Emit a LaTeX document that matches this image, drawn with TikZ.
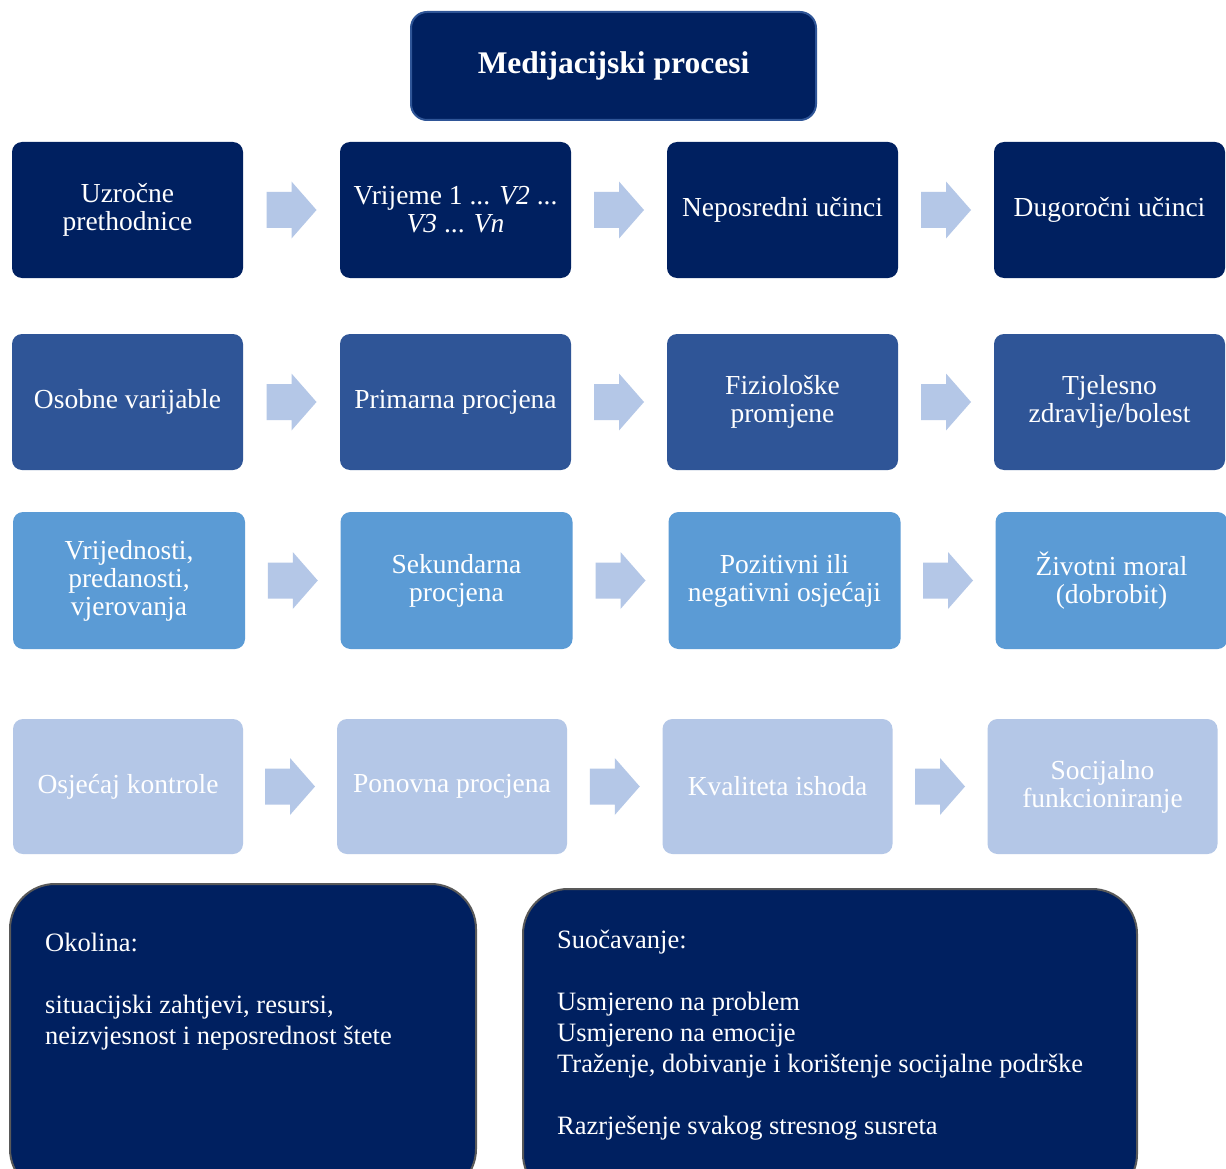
\documentclass[tikz,border=0pt]{standalone}
\usepackage{fontspec}
\setmainfont{Liberation Serif}
\usetikzlibrary{calc}
\definecolor{cA}{RGB}{0,32,96}
\definecolor{cB}{RGB}{47,85,151}
\definecolor{cC}{RGB}{91,155,213}
\definecolor{cD}{RGB}{180,199,231}
\definecolor{arrowc}{RGB}{180,199,231}
\definecolor{rimgray}{RGB}{89,89,89}
\begin{document}
\begin{tikzpicture}[x=1pt,y=-1pt,
  box/.style={rounded corners=10pt, minimum width=231pt, minimum height=136pt, inner sep=0pt, align=center, text=white, font=\fontsize{27.5}{28}\selectfont},
  blockarrow/.pic={\fill[arrowc] (-25,-18) -- (0,-18) -- (0,-28.5) -- (25,0) -- (0,28.5) -- (0,18) -- (-25,18) -- cycle;},
  bigbox/.style={draw=rimgray, line width=2pt, fill=cA, rounded corners=45pt, minimum height=310pt, anchor=north west, inner sep=0pt},
  bigtext/.style={anchor=north west, inner sep=0pt, align=left, text=white, font=\fontsize{26.5}{31}\selectfont}
]
\clip (0,0) rectangle (1226,1169);
\fill[white] (0,0) rectangle (1226,1169);

\node[box, fill=cA, minimum width=405pt, minimum height=108pt, rounded corners=16pt, draw=cB, line width=2pt, font=\fontsize{31.5}{36}\selectfont\bfseries] (title) at (613.5,66) {Medijacijski procesi};

% row 1
\node[box, fill=cA] (a1) at (127.5,210) {Uzročne\\prethodnice};
\node[box, fill=cA] (a2) at (455.5,210) {Vrijeme 1 ... \textit{V2} ...\\\textit{V3} ... \textit{Vn}};
\node[box, fill=cA] (a3) at (782.5,210) {Neposredni učinci};
\node[box, fill=cA] (a4) at (1109.5,210) {Dugoročni učinci};
% row 2
\node[box, fill=cB] (b1) at (127.5,402) {Osobne varijable};
\node[box, fill=cB] (b2) at (455.5,402) {Primarna procjena};
\node[box, fill=cB] (b3) at (782.5,402) {Fiziološke\\promjene};
\node[box, fill=cB] (b4) at (1109.5,402) {Tjelesno\\zdravlje/bolest};
% row 3
\node[box, fill=cC, minimum width=232pt, minimum height=137pt] (c1) at (129,580.5) {Vrijednosti,\\predanosti,\\vjerovanja};
\node[box, fill=cC, minimum width=232pt, minimum height=137pt] (c2) at (456.5,580.5) {Sekundarna\\procjena};
\node[box, fill=cC, minimum width=232pt, minimum height=137pt] (c3) at (784.5,580.5) {Pozitivni ili\\negativni osjećaji};
\node[box, fill=cC, minimum width=232pt, minimum height=137pt] (c4) at (1111.5,580.5) {Životni moral\\(dobrobit)};
% row 4
\node[box, fill=cD, minimum width=230pt, minimum height=135pt] (d1) at (128,786.5) {Osjećaj kontrole};
\node[box, fill=cD, minimum width=230pt, minimum height=135pt] (d2) at (452,786.5) {Ponovna procjena};
\node[box, fill=cD, minimum width=230pt, minimum height=135pt] (d3) at (777.5,786.5) {Kvaliteta ishoda};
\node[box, fill=cD, minimum width=230pt, minimum height=135pt] (d4) at (1102.5,786.5) {Socijalno\\funkcioniranje};

% arrows
\foreach \r in {a,b,c,d}{
  \pic at ($(\r1.east)!0.5!(\r2.west)$) {blockarrow};
  \pic at ($(\r2.east)!0.5!(\r3.west)$) {blockarrow};
  \pic at ($(\r3.east)!0.5!(\r4.west)$) {blockarrow};
}

% bottom boxes
\node[bigbox, minimum width=466pt] (env) at (9,883) {};
\node[bigbox, minimum width=614pt] (cope) at (522,888) {};
\node[bigtext] (envtext) at ($(env.north west)+(36,50)$) {Okolina:\\[31pt]situacijski zahtjevi, resursi,\\neizvjesnost i neposrednost štete};
\node[bigtext] (copetext) at ($(cope.north west)+(35,42)$) {Suočavanje:\\[31pt]Usmjereno na problem\\Usmjereno na emocije\\Traženje, dobivanje i korištenje socijalne podrške\\[31pt]Razrješenje svakog stresnog susreta};
\end{tikzpicture}
\end{document}
